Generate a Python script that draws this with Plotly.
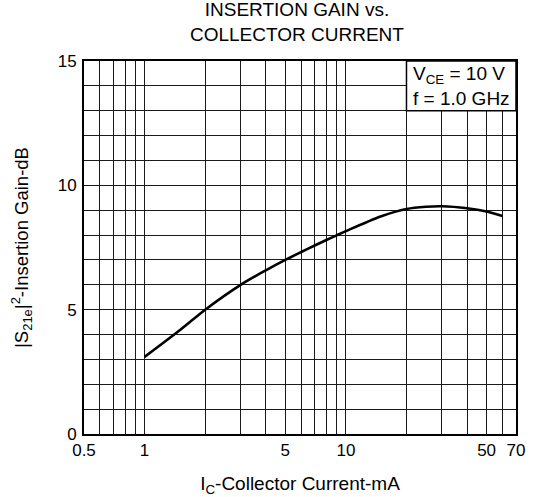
import math
import plotly.graph_objects as go

# Data
ic_ma = [1, 1.5, 2, 3, 4, 5, 6, 7, 8, 9, 10, 15, 20, 25, 30, 40, 50, 60]
gain_db = [3.1, 4.18, 5.0, 6.0, 6.58, 7.0, 7.32, 7.58, 7.8, 7.99, 8.16, 8.76, 9.05, 9.14, 9.16, 9.08, 8.95, 8.77]

x_tick_vals = [0.5, 1, 5, 10, 50, 70]
x_tick_text = ["0.5", "1", "5", "10", "50", "70"]
x_minor_vals = [0.6, 0.7, 0.8, 0.9, 2, 3, 4, 6, 7, 8, 9, 20, 30, 40, 60]
y_tick_vals = [0, 5, 10, 15]
x_range = [0.5, 70]
y_range = [0, 15]
box_x = [20, 70]
box_y = [13, 15]
box_text = "V<sub>CE</sub> = 10 V<br>f = 1.0 GHz"

FONT = "Liberation Sans, Arial, sans-serif"
GRID = "#1a1a1a"

fig = go.Figure()
fig.add_trace(go.Scatter(
    x=ic_ma, y=gain_db, mode="lines",
    line=dict(color="black", width=2.6, shape="spline", smoothing=0.9),
    hoverinfo="skip", showlegend=False,
))

lx0, lx1 = math.log10(x_range[0]), math.log10(x_range[1])
def xpaper(v):
    return (math.log10(v) - lx0) / (lx1 - lx0)
def ypaper(v):
    return (v - y_range[0]) / (y_range[1] - y_range[0])

fig.add_shape(type="rect", xref="paper", yref="paper",
              x0=xpaper(box_x[0]), x1=xpaper(box_x[1]),
              y0=ypaper(box_y[0]), y1=ypaper(box_y[1]),
              fillcolor="white", line=dict(color="black", width=1.5), layer="above")

fig.add_annotation(x=math.log10(box_x[0]), y=(box_y[0] + box_y[1]) / 2,
                   xref="x", yref="y",
                   text=box_text, showarrow=False, align="left",
                   xanchor="left", yanchor="middle", xshift=5,
                   font=dict(family=FONT, size=19, color="black"))

fig.update_layout(
    width=538, height=497,
    margin=dict(l=84, r=22, t=61, b=63, autoexpand=False),
    paper_bgcolor="white", plot_bgcolor="white",
    font=dict(family=FONT, size=17, color="black"),
    title=dict(text="INSERTION GAIN vs.<br>COLLECTOR CURRENT",
               x=0.493, xanchor="center", xref="paper",
               y=0.967, yanchor="top", yref="container",
               font=dict(family=FONT, size=19, color="black")),
)

fig.update_xaxes(
    type="log", range=[lx0, lx1],
    tickmode="array", tickvals=x_tick_vals, ticktext=x_tick_text,
    showgrid=True, gridcolor=GRID, gridwidth=1.2,
    minor=dict(tickmode="array", tickvals=x_minor_vals, showgrid=True,
               gridcolor=GRID, gridwidth=1.2, ticks=""),
    ticks="", showline=True, linecolor="black", linewidth=2, mirror=True,
    zeroline=False, tickfont=dict(size=17),
    title=dict(text="I<sub>C</sub>-Collector Current-mA", standoff=18,
               font=dict(size=19)),
    automargin=False,
)
fig.update_yaxes(
    range=y_range, tickmode="array", tickvals=y_tick_vals,
    showgrid=True, gridcolor=GRID, gridwidth=1.2,
    minor=dict(dtick=1, showgrid=True, gridcolor=GRID, gridwidth=1.2, ticks=""),
    ticks="", showline=True, linecolor="black", linewidth=2, mirror=True,
    zeroline=False, tickfont=dict(size=17), ticklabelstandoff=2,
    title=dict(text="|S<sub>21e</sub>|<sup>2</sup>-Insertion Gain-dB", standoff=24,
               font=dict(size=18.5)),
    automargin=False,
)

fig.write_html("out.html", config={"displayModeBar": False},
               post_script="document.body.style.margin='0';")
